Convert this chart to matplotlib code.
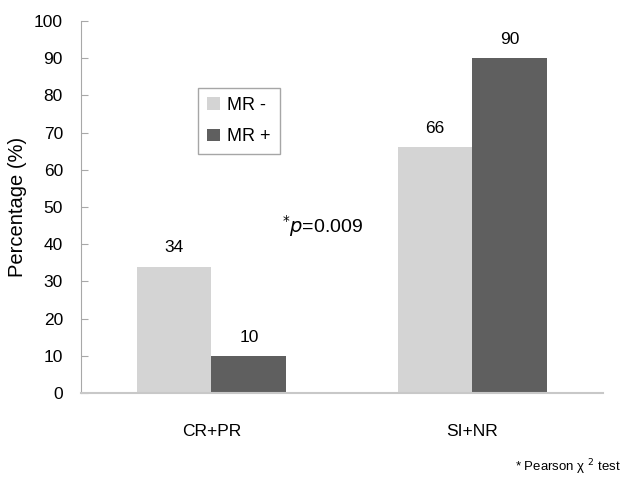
import numpy as np
import matplotlib.pyplot as plt

plt.rcParams['font.family'] = ['Liberation Sans', 'DejaVu Sans']

# data
categories = ['CR+PR', 'SI+NR']
mr_neg = [34, 66]
mr_pos = [10, 90]

x = np.arange(len(categories))
w = 0.287

fig = plt.figure(figsize=(6.28, 4.83), dpi=100)
ax = fig.add_axes([0.129, 0.1863, 0.831, 0.7702])

b1 = ax.bar(x - w/2, mr_neg, w, color='#d4d4d4', label='MR -')
b2 = ax.bar(x + w/2, mr_pos, w, color='#5f5f5f', label='MR +')

# value labels
for bars, vals in [(b1, mr_neg), (b2, mr_pos)]:
    for b, v in zip(bars, vals):
        ax.text(b.get_x() + b.get_width()/2, v + 3, str(v), ha='center', va='bottom', fontsize=12.5)

ax.set_xlim(-0.5, 1.5)
ax.set_ylim(0, 100)
ax.set_yticks(range(0, 101, 10))
ax.set_xticks(x)
ax.set_xticklabels(categories, fontsize=12.5)
ax.tick_params(axis='x', length=0, pad=22)
ax.tick_params(axis='y', direction='in', length=5, color='#a8a8a8', labelsize=12.5, pad=13)
ax.set_ylabel('Percentage (%)', fontsize=14.5, labelpad=5)

for s in ['top', 'right']:
    ax.spines[s].set_visible(False)
ax.spines['left'].set_color('#a8a8a8')
ax.spines['bottom'].set_color('#c8c8c8')
ax.spines['bottom'].set_linewidth(1.5)

leg = ax.legend(loc='upper left', bbox_to_anchor=(0.225, 0.82), fontsize=13,
                frameon=True, fancybox=False, handlelength=0.7, handleheight=0.7,
                handletextpad=0.4, labelspacing=0.8, borderpad=0.5, borderaxespad=0)
leg.get_frame().set_edgecolor('#909090')
leg.get_frame().set_linewidth(1.0)

ax.text(0.427, 45, r'$^{*}$' + r'$\it{p}$' + '=0.009', ha='center', va='center', fontsize=14)

fig.text(0.988, 0.012, '* Pearson χ $^{2}$ test', ha='right', va='bottom', fontsize=9.5)

fig.savefig('out.png', dpi=100)
